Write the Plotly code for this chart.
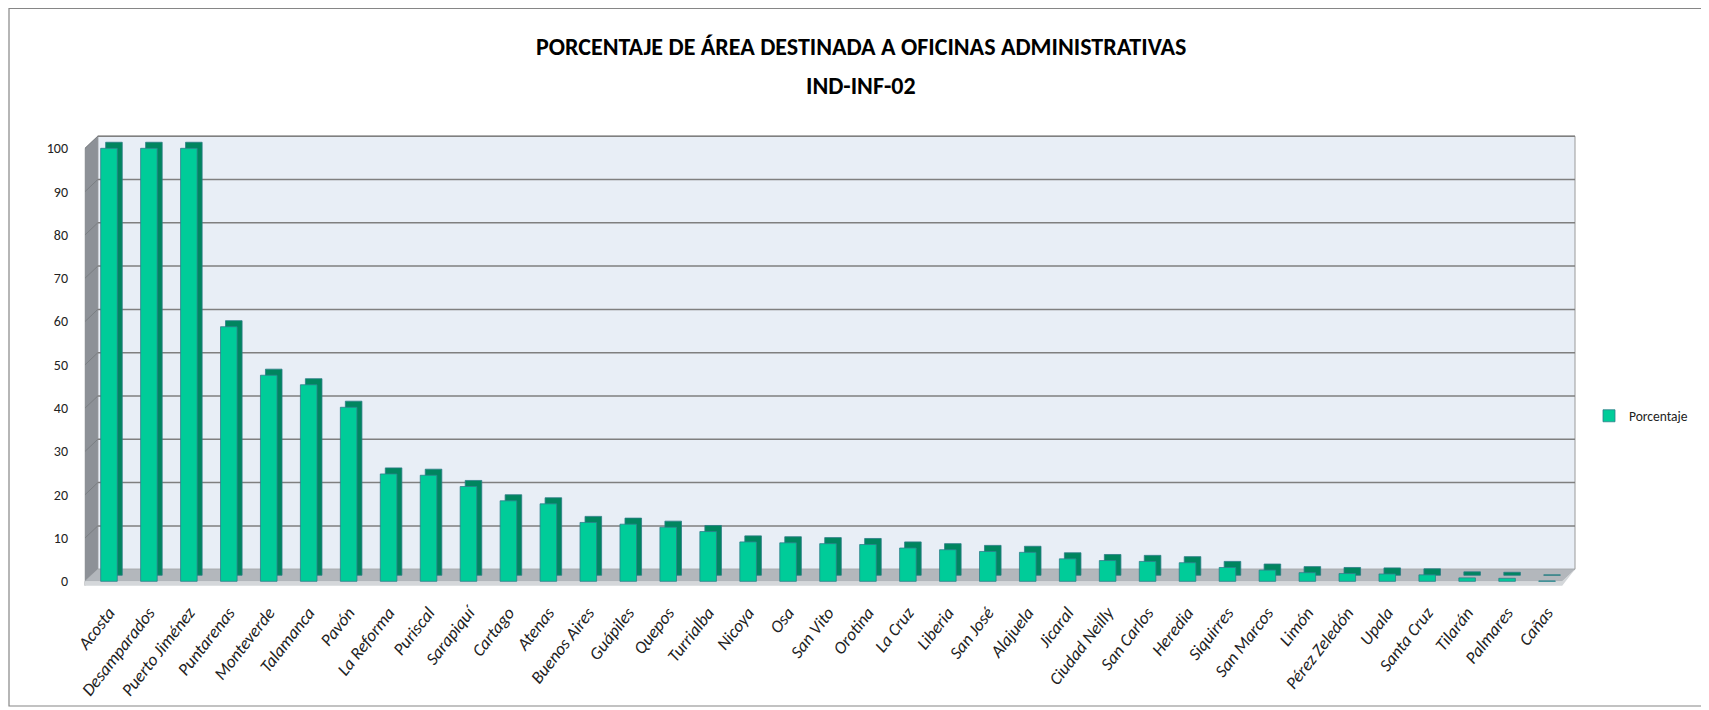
import plotly.graph_objects as go

categories = ["Acosta", "Desamparados", "Puerto Jiménez", "Puntarenas", "Monteverde", "Talamanca",
              "Pavón", "La Reforma", "Puriscal", "Sarapiquí", "Cartago", "Atenas", "Buenos Aires",
              "Guápiles", "Quepos", "Turrialba", "Nicoya", "Osa", "San Vito", "Orotina", "La Cruz",
              "Liberia", "San José", "Alajuela", "Jicaral", "Ciudad Neilly", "San Carlos", "Heredia",
              "Siquirres", "San Marcos", "Limón", "Pérez Zeledón", "Upala", "Santa Cruz", "Tilarán",
              "Palmares", "Cañas"]
values = [100, 100, 100, 58.8, 47.6, 45.4, 40.2, 24.8, 24.5, 21.9, 18.6, 17.9, 13.6,
          13.2, 12.5, 11.5, 9.1, 8.9, 8.7, 8.5, 7.7, 7.3, 6.9, 6.7, 5.2, 4.8, 4.6, 4.3,
          3.2, 2.6, 2.0, 1.8, 1.7, 1.5, 0.8, 0.7, 0.1]
y_ticks = [0, 10, 20, 30, 40, 50, 60, 70, 80, 90, 100]
series_name = "Porcentaje"

FONT = "Carlito, Liberation Sans Narrow, Arial Narrow, sans-serif"
n = len(categories)
xs = list(range(n))

# oblique depth offsets (in axis units)
DX, DY = 0.32, 2.8
XL = -0.6           # front-left corner of floor
XR = n - 1 + 0.38   # front-right corner of floor

fig = go.Figure()
# dark extrusion (top + side faces)
fig.add_trace(go.Bar(x=xs, y=values, base=1.4, width=0.415, offset=-0.2075 + 0.125,
                     marker=dict(color="#00855f", line=dict(color="#2b7e86", width=0.8)),
                     showlegend=False, hoverinfo="skip"))
# front faces
fig.add_trace(go.Bar(x=xs, y=values, width=0.415, offset=-0.2075, name=series_name,
                     marker=dict(color="#00cc99", line=dict(color="#2f7f8c", width=0.8))))

shapes = []
# back wall
shapes.append(dict(type="rect", xref="x", yref="y", x0=XL + DX, x1=XR + DX, y0=DY, y1=100 + DY,
                   fillcolor="#e8eef6", line=dict(color="#9a9a9a", width=1), layer="below"))
# left wall
shapes.append(dict(type="path", xref="x", yref="y",
                   path=f"M {XL},-1.0 L {XL},100 L {XL+DX},{100+DY} L {XL+DX},{DY} L {XL},0 Z",
                   fillcolor="#8d9197", line=dict(color="#8d9197", width=0.5), layer="below"))
# floor top
shapes.append(dict(type="path", xref="x", yref="y",
                   path=f"M {XL},0 L {XR},0 L {XR+DX},{DY} L {XL+DX},{DY} Z",
                   fillcolor="#b3b7bc", line=dict(color="#a0a4a8", width=0.5), layer="below"))
# floor front edge
shapes.append(dict(type="path", xref="x", yref="y",
                   path=f"M {XL},-1.0 L {XR},-1.0 L {XR+DX},{DY} L {XR},0 L {XL},0 Z",
                   fillcolor="#d4d7da", line=dict(width=0), layer="below"))
# gridlines on back and left walls
for v in y_ticks[1:]:
    shapes.append(dict(type="line", xref="x", yref="y", x0=XL + DX, x1=XR + DX, y0=v + DY, y1=v + DY,
                       line=dict(color="#7f7f7f", width=1.5), layer="below"))
    shapes.append(dict(type="line", xref="x", yref="y", x0=XL, x1=XL + DX, y0=v, y1=v + DY,
                       line=dict(color="#7a7e82", width=1), layer="below"))

# layout geometry (window pixels, compensating the page's 8px body margin)
OFF = 8
L, R, T, B = 83 - OFF, 1577 - OFF, 131 - OFF, 590 - OFF
W, H = R - L, B - T
def px_x(p):
    return (p - OFF - L) / W
def px_y(p):
    return (B - (p - OFF)) / H

# outer chart border
shapes.append(dict(type="rect", xref="paper", yref="paper", x0=px_x(9), x1=px_x(1703),
                   y0=px_y(706), y1=px_y(8.5),
                   line=dict(color="#868686", width=1.2), fillcolor="rgba(0,0,0,0)"))

fig.update_layout(
    width=1709, height=710,
    margin=dict(l=L, r=1709 - R, t=T, b=710 - B, autoexpand=False),
    paper_bgcolor="white", plot_bgcolor="white",
    barmode="overlay",
    shapes=shapes,
    showlegend=True,
    legend=dict(x=px_x(1589), y=px_y(416), xanchor="left", yanchor="middle", itemwidth=30,
                font=dict(family=FONT, size=13.5, color="#222"), bgcolor="rgba(0,0,0,0)"),
    xaxis=dict(range=[XL - 0.05, XR + DX + 0.05], tickmode="array", tickvals=xs, ticktext=categories,
               tickangle=-52, tickfont=dict(family=FONT, size=17.5, color="#222", style="italic"),
               showgrid=False, zeroline=False, showline=False, ticks="", automargin=False,
               ticklabelstandoff=8),
    yaxis=dict(range=[-2, 104], tickmode="array", tickvals=y_ticks, ticktext=[str(t) for t in y_ticks],
               tickfont=dict(family=FONT, size=14, color="#222"), showgrid=False, zeroline=False,
               showline=False, ticks="", ticklabelstandoff=14, automargin=False),
    annotations=[
        dict(text="<b>PORCENTAJE DE ÁREA DESTINADA A OFICINAS ADMINISTRATIVAS</b>", xref="paper", yref="paper",
             x=px_x(861), y=px_y(46), xanchor="center", yanchor="middle", showarrow=False,
             font=dict(family=FONT, size=24, color="#000")),
        dict(text="<b>IND-INF-02</b>", xref="paper", yref="paper",
             x=px_x(861), y=px_y(85), xanchor="center", yanchor="middle", showarrow=False,
             font=dict(family=FONT, size=24, color="#000")),
    ],
)

fig.write_html("out.html")
